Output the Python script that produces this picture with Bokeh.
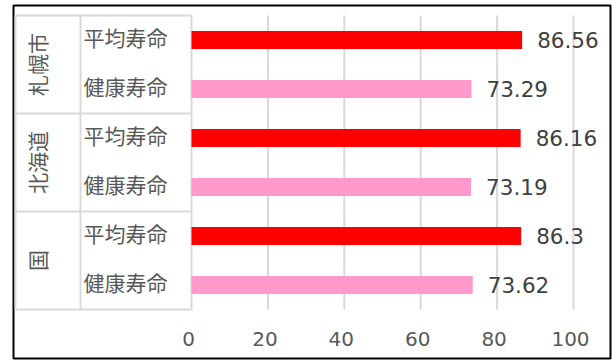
import math
from bokeh.plotting import figure
from bokeh.models import Range1d, ColumnDataSource
from bokeh.core.properties import value
from bokeh.embed import file_html
from bokeh.resources import INLINE

# ---- data ----
groups = ["札幌市", "北海道", "国"]
series = ["平均寿命", "健康寿命"]
avg_life = [86.56, 86.16, 86.3]
healthy_life = [73.29, 73.19, 73.62]
series_colors = ["#FF0000", "#FF99CC"]
x_ticks = [0, 20, 40, 60, 80, 100]
x_tick_labels = ["0", "20", "40", "60", "80", "100"]

# ---- layout (pixels) ----
W, H = 612, 361
frame_l, frame_r, frame_t, frame_b = 13, 610, 5, 358
px0, px100 = 191, 573          # pixel of x=0 and x=100
plot_top, slot_px = 15, 49     # top of category area and pixel height of one slot
tbl_left_px, tbl_div_px = 15, 80
grp_label_px, sub_label_px = 36, 125
tick_label_py = 338.5

sx = (px100 - px0) / 100.0
def xd(px):
    return (px - px0) / sx
def yd(py):
    return (py - plot_top) / slot_px

n_slots = len(groups) * len(series)

p = figure(width=W, height=H, output_backend="svg", toolbar_location=None,
           x_axis_location=None, y_axis_location=None,
           x_range=Range1d(xd(frame_l), xd(frame_r)),
           y_range=Range1d(yd(frame_b), yd(frame_t)))
p.min_border_left = frame_l
p.min_border_right = W - frame_r
p.min_border_top = frame_t
p.min_border_bottom = H - frame_b
p.xgrid.visible = False
p.ygrid.visible = False
p.outline_line_color = "#000000"
p.outline_line_width = 2
p.background_fill_color = "white"
p.border_fill_color = "white"

grid_col = "#D9D9D9"

# vertical gridlines
p.segment(x0=x_ticks, x1=x_ticks, y0=[0] * len(x_ticks), y1=[n_slots] * len(x_ticks),
          line_color=grid_col, line_width=2)

# category table lines
hy = [g * len(series) for g in range(len(groups) + 1)]
p.segment(x0=[xd(tbl_left_px)] * len(hy), x1=[0] * len(hy), y0=hy, y1=hy,
          line_color=grid_col, line_width=2)
vx = [xd(tbl_left_px), xd(tbl_div_px)]
p.segment(x0=vx, x1=vx, y0=[0, 0], y1=[n_slots, n_slots],
          line_color=grid_col, line_width=2)

# bars
ys, vals, cols, subs = [], [], [], []
for gi, g in enumerate(groups):
    for si, s in enumerate(series):
        ys.append(gi * len(series) + si + 0.5)
        v = avg_life[gi] if si == 0 else healthy_life[gi]
        vals.append(v)
        cols.append(series_colors[si])
        subs.append(s)
src = ColumnDataSource(dict(y=ys, v=vals, c=cols, lab=[str(v) for v in vals], sub=subs))
p.hbar(y="y", left=0, right="v", height=18 / slot_px, fill_color="c", line_color=None, source=src)

# value labels
p.text(x="v", y="y", text="lab", source=src, x_offset=15, text_align="left",
       text_baseline="middle", text_font=value("DejaVu Sans"), text_font_size="21.5px",
       text_color="#404040")

# sub-category labels
p.text(x=xd(sub_label_px), y="y", text="sub", source=src, y_offset=-3,
       text_align="center", text_baseline="middle",
       text_font=value("Noto Sans CJK JP"), text_font_size="21px", text_color="#595959")

# group labels (rotated)
gy = [gi * len(series) + len(series) / 2 for gi in range(len(groups))]
p.text(x=[xd(grp_label_px)] * len(groups), y=gy, text=groups, angle=math.pi / 2,
       text_align="center", text_baseline="middle",
       text_font=value("Noto Sans CJK JP"), text_font_size="21px", text_color="#595959")

# x tick labels
p.text(x=x_ticks, y=[yd(tick_label_py)] * len(x_ticks), text=x_tick_labels, x_offset=-3,
       text_align="center", text_baseline="middle",
       text_font=value("DejaVu Sans"), text_font_size="20px", text_color="#595959")

open("out.html", "w").write(file_html(p, INLINE))
